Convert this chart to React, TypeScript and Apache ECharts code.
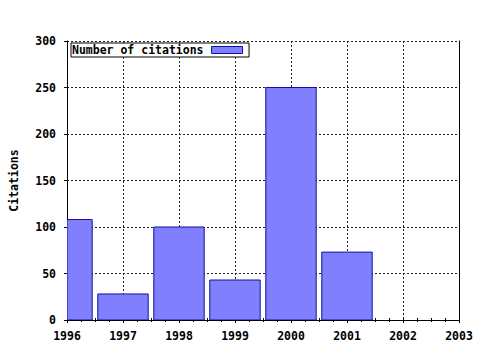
import React, { useEffect, useRef } from "react";
import * as echarts from "echarts";

const years = [1996, 1997, 1998, 1999, 2000, 2001];
const citations = [108, 28, 100, 43, 250, 73];
const seriesName = "Number of citations";
const yAxisName = "Citations";
const xMin = 1996;
const xMax = 2003;
const yMin = 0;
const yMax = 300;
const yStep = 50;
const barFraction = 0.9;

const FONT = "DejaVu Sans Mono";

export default function App() {
  const ref = useRef<HTMLDivElement>(null);
  useEffect(() => {
    if (!ref.current) return;
    const chart = echarts.init(ref.current, null, { renderer: "svg" });
    const textStyle = { fontFamily: FONT, fontWeight: "bold" as const, fontSize: 11.5, color: "#000" };
    const axisLine = { show: true, lineStyle: { color: "#000", width: 1 } };
    const grid = { color: "#222", width: 1, type: [2, 2] as number[] };
    const fill = "#8080ff";
    const border = "#1010a0";
    chart.setOption({
      animation: false,
      backgroundColor: "#fff",
      textStyle: { fontFamily: FONT },
      grid: { left: 64, top: 41, right: 21, bottom: 30, containLabel: false },
      legend: {
        show: true,
        left: 71,
        top: 43,
        padding: [1, 6, 1, 1],
        borderColor: "#000",
        borderWidth: 1,
        backgroundColor: "#fff",
        itemWidth: 31,
        itemHeight: 7,
        align: "right",
        icon: "rect",
        itemStyle: { color: fill, borderColor: border, borderWidth: 1 },
        textStyle: { ...textStyle, padding: [0, 3, 0, 0] },
        data: [seriesName],
      },
      xAxis: [
        {
          type: "value",
          min: xMin,
          max: xMax,
          interval: 1,
          position: "bottom",
          axisLine,
          axisTick: { show: true, inside: false, length: 3, lineStyle: { color: "#000" } },
          minorTick: { show: true, splitNumber: 4, length: 2, lineStyle: { color: "#000" } },
          axisLabel: { ...textStyle, margin: 10, formatter: (v: number) => String(v) },
          splitLine: { show: true, lineStyle: grid },
        },
        {
          type: "value",
          min: xMin,
          max: xMax,
          interval: 1,
          position: "top",
          axisLine,
          axisTick: { show: true, inside: false, length: 3, lineStyle: { color: "#000" } },
          minorTick: { show: true, splitNumber: 4, length: 2, lineStyle: { color: "#000" } },
          axisLabel: { show: false },
          splitLine: { show: false },
        },
      ],
      yAxis: [
        {
          type: "value",
          min: yMin,
          max: yMax,
          interval: yStep,
          position: "left",
          name: yAxisName,
          nameLocation: "middle",
          nameGap: 47,
          nameTextStyle: { ...textStyle },
          axisLine,
          axisTick: { show: true, inside: false, length: 3, lineStyle: { color: "#000" } },
          axisLabel: { ...textStyle, margin: 11 },
          splitLine: { show: true, lineStyle: grid },
        },
        {
          type: "value",
          min: yMin,
          max: yMax,
          interval: yStep,
          position: "right",
          axisLine,
          axisTick: { show: false },
          axisLabel: { show: false },
          splitLine: { show: false },
        },
      ],
      series: [
        {
          name: seriesName,
          type: "custom",
          xAxisIndex: 0,
          yAxisIndex: 0,
          clip: true,
          itemStyle: { color: fill, borderColor: border, borderWidth: 1 },
          encode: { x: 0, y: 1 },
          renderItem: (params: any, api: any) => {
            const x = api.value(0);
            const v = api.value(1);
            const p0 = api.coord([x - barFraction / 2, v]);
            const p1 = api.coord([x + barFraction / 2, 0]);
            const cs = params.coordSys;
            const shape = echarts.graphic.clipRectByRect(
              { x: p0[0], y: p0[1], width: p1[0] - p0[0], height: p1[1] - p0[1] },
              { x: cs.x, y: cs.y, width: cs.width, height: cs.height }
            );
            if (!shape) return null;
            return {
              type: "rect",
              shape,
              style: { fill, stroke: border, lineWidth: 1 },
            };
          },
          data: years.map((y, i) => [y, citations[i]]),
        },
      ],
    });
    return () => chart.dispose();
  }, []);
  return <div ref={ref} style={{ width: 480, height: 350, position: "absolute", left: 0, top: 0 }} />;
}
